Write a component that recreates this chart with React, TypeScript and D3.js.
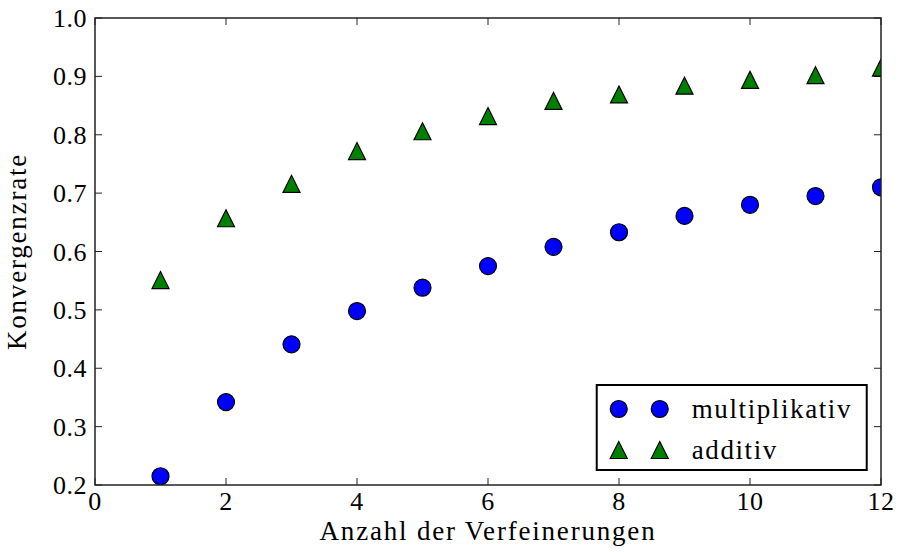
import { useEffect, useRef } from "react";
import * as d3 from "d3";

const refinements = [1, 2, 3, 4, 5, 6, 7, 8, 9, 10, 11, 12];
const multiplikativ = [0.215, 0.342, 0.441, 0.498, 0.538, 0.575, 0.608, 0.633, 0.661, 0.68, 0.695, 0.71];
const additiv = [0.551, 0.657, 0.716, 0.772, 0.806, 0.832, 0.858, 0.869, 0.884, 0.894, 0.902, 0.915];
const xTicks = [0, 2, 4, 6, 8, 10, 12];
const yTicks = [0.2, 0.3, 0.4, 0.5, 0.6, 0.7, 0.8, 0.9, 1.0];

const FONT = "'Liberation Serif', 'DejaVu Serif', serif";
const BLUE = "#0000ff";
const GREEN = "#008000";

export default function App() {
  const svgRef = useRef<SVGSVGElement>(null);

  useEffect(() => {
    if (!svgRef.current) return;
    const width = 901;
    const height = 552;
    const svg = d3.select(svgRef.current);
    svg.selectAll("*").remove();
    svg.attr("width", width).attr("height", height);

    const margin = { top: 18, right: 20, bottom: 67, left: 95 };
    const w = width - margin.left - margin.right;
    const h = height - margin.top - margin.bottom;

    const x = d3.scaleLinear().domain([0, 12]).range([0, w]);
    const y = d3.scaleLinear().domain([0.2, 1.0]).range([h, 0]);

    svg.append("rect").attr("width", width).attr("height", height).attr("fill", "#fff");

    const g = svg
      .append("g")
      .attr("transform", `translate(${margin.left},${margin.top})`);

    svg
      .append("defs")
      .append("clipPath")
      .attr("id", "plot-clip")
      .append("rect")
      .attr("width", w)
      .attr("height", h);

    // ticks on all four sides, pointing inward
    const tickLen = 7;
    xTicks.forEach((t) => {
      g.append("line")
        .attr("x1", x(t)).attr("x2", x(t))
        .attr("y1", h).attr("y2", h - tickLen)
        .attr("stroke", "#222").attr("stroke-width", 1);
      g.append("line")
        .attr("x1", x(t)).attr("x2", x(t))
        .attr("y1", 0).attr("y2", tickLen)
        .attr("stroke", "#222").attr("stroke-width", 1);
      g.append("text")
        .attr("x", x(t))
        .attr("y", h + 25)
        .attr("text-anchor", "middle")
        .attr("font-family", FONT)
        .attr("font-size", "26px")
        .attr("letter-spacing", "0.5px")
        .attr("fill", "#000")
        .text(t);
    });

    yTicks.forEach((t) => {
      g.append("line")
        .attr("x1", 0).attr("x2", tickLen)
        .attr("y1", y(t)).attr("y2", y(t))
        .attr("stroke", "#222").attr("stroke-width", 1);
      g.append("line")
        .attr("x1", w).attr("x2", w - tickLen)
        .attr("y1", y(t)).attr("y2", y(t))
        .attr("stroke", "#222").attr("stroke-width", 1);
      g.append("text")
        .attr("x", -8)
        .attr("y", y(t))
        .attr("dy", "0.35em")
        .attr("text-anchor", "end")
        .attr("font-family", FONT)
        .attr("font-size", "26px")
        .attr("letter-spacing", "0.5px")
        .attr("fill", "#000")
        .text(t.toFixed(1));
    });

    // data
    const plot = g.append("g").attr("clip-path", "url(#plot-clip)");
    const triPath = (s: number) => `M0,${-s}L${s},${s}L${-s},${s}Z`;

    plot
      .selectAll("path.add")
      .data(refinements)
      .join("path")
      .attr("class", "add")
      .attr("d", triPath(8.5))
      .attr("transform", (d, i) => `translate(${x(d)},${y(additiv[i])})`)
      .attr("fill", GREEN)
      .attr("stroke", "#000")
      .attr("stroke-width", 1.2);

    plot
      .selectAll("circle.mul")
      .data(refinements)
      .join("circle")
      .attr("class", "mul")
      .attr("cx", (d) => x(d))
      .attr("cy", (d, i) => y(multiplikativ[i]))
      .attr("r", 8.5)
      .attr("fill", BLUE)
      .attr("stroke", "#000")
      .attr("stroke-width", 1.2);

    // frame
    g.append("rect")
      .attr("width", w)
      .attr("height", h)
      .attr("fill", "none")
      .attr("stroke", "#222")
      .attr("stroke-width", 1.5);

    // axis labels
    g.append("text")
      .attr("x", w / 2)
      .attr("y", h + 55)
      .attr("text-anchor", "middle")
      .attr("font-family", FONT)
      .attr("font-size", "27px")
      .attr("letter-spacing", "1.8px")
      .attr("fill", "#000")
      .text("Anzahl der Verfeinerungen");

    g.append("text")
      .attr("transform", `translate(-69,${h / 2}) rotate(-90)`)
      .attr("text-anchor", "middle")
      .attr("font-family", FONT)
      .attr("font-size", "27px")
      .attr("letter-spacing", "1.8px")
      .attr("fill", "#000")
      .text("Konvergenzrate");

    // legend
    const legend = g.append("g").attr("transform", `translate(${x(7.66)},${y(0.3713)})`);
    legend
      .append("rect")
      .attr("width", 270)
      .attr("height", 85)
      .attr("fill", "#fff")
      .attr("stroke", "#000")
      .attr("stroke-width", 2);

    const entries = [
      { label: "multiplikativ", kind: "circle" },
      { label: "additiv", kind: "triangle" },
    ];
    entries.forEach((e, i) => {
      const row = legend.append("g").attr("transform", `translate(0,${24 + i * 41})`);
      [22, 63].forEach((mx) => {
        if (e.kind === "circle") {
          row.append("circle")
            .attr("cx", mx).attr("cy", 0).attr("r", 8.5)
            .attr("fill", BLUE).attr("stroke", "#000").attr("stroke-width", 1.2);
        } else {
          row.append("path")
            .attr("d", triPath(8.5))
            .attr("transform", `translate(${mx},0)`)
            .attr("fill", GREEN).attr("stroke", "#000").attr("stroke-width", 1.2);
        }
      });
      row.append("text")
        .attr("x", 95)
        .attr("y", 0)
        .attr("dy", "0.32em")
        .attr("font-family", FONT)
        .attr("font-size", "27px")
        .attr("letter-spacing", "1.6px")
        .attr("fill", "#000")
        .text(e.label);
    });
  }, []);

  return (
    <svg
      ref={svgRef}
      style={{ position: "absolute", left: 0, top: 0, display: "block" }}
    />
  );
}
